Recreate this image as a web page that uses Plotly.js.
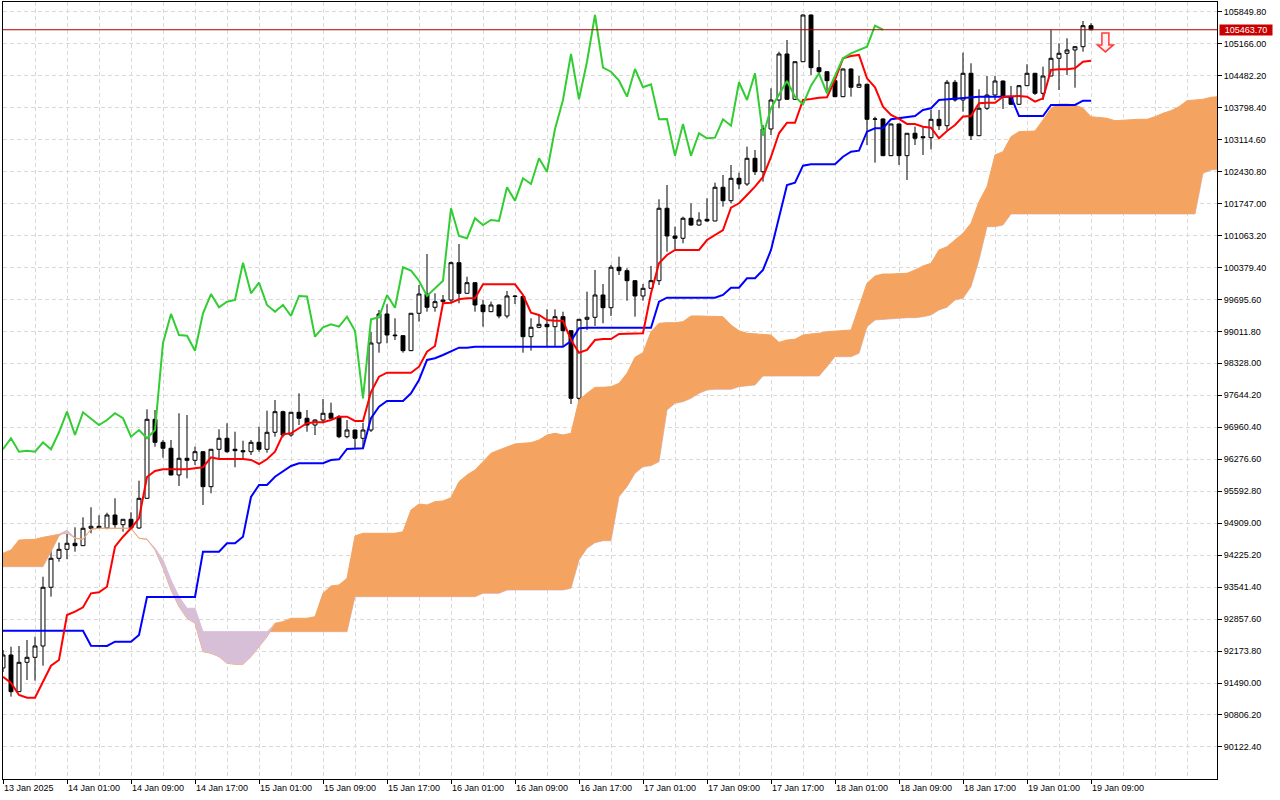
<!DOCTYPE html>
<html>
<head>
<meta charset="utf-8">
<script src="https://cdn.plot.ly/plotly-3.0.1.min.js"></script>
<style>
html,body{margin:0;padding:0;background:#ffffff;}
#chart{width:1280px;height:800px;}
</style>
</head>
<body>
<div id="chart"></div>
<script>
// ---- Data (hourly bars, BTC-like, 13 Jan 2025 17:00 .. 19 Jan 2025 09:00) ----
const timeLabels = ['13 Jan 2025','14 Jan 01:00','14 Jan 09:00','14 Jan 17:00','15 Jan 01:00','15 Jan 09:00',
  '15 Jan 17:00','16 Jan 01:00','16 Jan 09:00','16 Jan 17:00','17 Jan 01:00','17 Jan 09:00','17 Jan 17:00',
  '18 Jan 01:00','18 Jan 09:00','18 Jan 17:00','19 Jan 01:00','19 Jan 09:00'];

const priceTicks = [90122.40, 90806.20, 91490.00, 92173.80, 92857.60, 93541.40, 94225.20, 94909.00,
  95592.80, 96276.60, 96960.40, 97644.20, 98328.00, 99011.80, 99695.60, 100379.40, 101063.20,
  101747.00, 102430.80, 103114.60, 103798.40, 104482.20, 105166.00, 105849.80];

const open = [91812,92090,91305,91933,92040,92282,93538,94158,94350,94479,
  94428,94800,94842,94806,95084,94877,94992,94806,95441,97131,
  96639,96511,95940,96297,96254,96438,95690,96490,96725,96490,
  96460,96438,96639,96490,96853,97294,96795,97281,97153,97009,
  97116,97260,97187,96759,96902,96725,96902,98763,99384,98934,
  98920,98599,99399,99811,99527,99647,99683,100481,99826,100053,
  99576,99433,99576,99341,99769,99758,98898,99099,99163,99112,
  99326,99026,97580,99270,99313,99790,99518,100383,100310,100096,
  99769,99933,100096,101645,101052,101003,101431,101287,101409,101373,
  102094,101807,102286,102164,102714,102427,103341,103961,104945,103976,
  104780,105779,104652,104566,104374,104032,104624,104233,104297,103548,
  103555,102770,103448,102770,103249,103176,103155,103548,103411,104340,
  103961,104532,103197,103784,104068,104367,104032,103869,104267,104532,
  104104,104474,104853,104960,105031,105101,105550];

const high = [92197,92267,92282,92410,92481,93764,94428,94492,94678,94821,
  95035,95249,95078,95133,95441,94992,95142,95818,97345,97330,
  96688,96688,97260,97223,96545,96450,96490,96917,97046,96866,
  96673,96688,96973,97315,97544,97315,97281,97687,97330,97131,
  97565,97486,97223,97116,96910,97058,99005,99469,99591,99292,
  98934,99399,100004,100667,99826,99790,100502,100881,100181,100060,
  99683,99647,99585,99876,99790,99769,99292,99362,99484,99484,
  99433,99035,99275,99861,100325,100025,100432,100609,100361,100100,
  100025,100410,101837,102143,101251,101465,101751,101559,101858,102192,
  102357,102571,102406,102962,102892,103426,104211,104994,105244,104780,
  105790,105790,105031,104581,104389,104635,104635,104474,104310,103604,
  103570,103455,103455,103255,103390,103390,103747,103747,104389,104389,
  104973,104746,104190,104474,104474,104375,104261,104282,104725,104540,
  104673,105458,105174,105281,105110,105651,105602];

const low = [91726,91198,91298,91555,91540,91861,93337,94085,94137,94299,
  94421,94693,94791,94778,94806,94727,94785,94790,95426,96545,
  96310,95930,95705,95869,96154,95298,95548,96261,96417,96105,
  96261,96368,96438,96417,96759,96746,96759,97009,96866,96795,
  97046,97153,96725,96725,96511,96511,96860,98556,98757,98827,
  98556,98590,99219,99433,99433,99612,99612,99612,99820,99433,
  99112,99425,99292,99292,99597,98556,98599,99078,98699,98699,
  98699,97458,97401,99041,99127,99185,99341,100218,99668,99326,
  99668,99925,100004,100716,100768,100896,101272,101272,101358,101365,
  101679,101751,102051,102122,102357,102213,103212,103784,103960,103961,
  104770,104496,104496,104139,104020,104020,104032,104225,102998,102620,
  102760,102760,102571,102250,102998,102785,102907,103319,103319,103925,
  103711,103105,103190,103747,103961,103769,103854,103854,104260,104068,
  103961,104470,104175,104496,104224,104994,105455];

const close = [92090,91305,91933,92040,92282,93538,94158,94350,94479,94428,
  94800,94842,94806,95084,94877,94992,94806,95441,97131,96639,
  96511,95940,96297,96254,96438,95690,96490,96725,96438,96460,
  96438,96639,96490,96853,97294,96795,97281,97153,97009,97116,
  97260,97153,96759,96902,96725,96902,98763,99384,98934,98920,
  98599,99399,99811,99527,99647,99683,100481,99826,100053,99576,
  99433,99576,99341,99769,99758,98898,99099,99163,99112,99326,
  99026,97580,99270,99313,99790,99518,100383,100310,100096,99769,
  99933,100096,101645,101052,101003,101431,101287,101394,101373,102094,
  101807,102286,102164,102714,102427,103341,103961,104945,103976,104780,
  105779,104652,104566,104374,104032,104624,104233,104297,103548,103555,
  102770,103448,102770,103249,103142,103155,103548,103411,104340,103961,
  104532,103197,103784,104068,104367,104032,103869,104267,104532,104104,
  104474,104853,104960,105031,105101,105550,105463.70];

const tenkan = [91625,91491,91234,91176,91176,91518,91861,91983,92945,93016,
  93110,93409,93431,93550,94406,94620,94800,95014,95897,96025,
  96062,96062,96062,96062,96083,96105,96318,96282,96282,96282,
  96282,96261,96175,96276,96438,96810,96832,96939,97046,97067,
  97067,97116,97187,97187,97095,97095,97715,98042,98128,98128,
  98128,98128,98256,98577,98699,99612,99625,99698,99719,99719,
  100019,100019,100019,100019,100019,99790,99411,99362,99255,99240,
  99240,98827,98556,98614,98827,98849,98849,98956,98956,98956,
  98971,99826,100468,100646,100753,100753,100753,100753,100966,101073,
  101180,101657,101751,101929,102107,102314,102742,103249,103475,103475,
  103961,103982,104010,104019,104389,104853,104902,104924,104425,104233,
  103818,103640,103555,103448,103448,103390,103369,103142,103298,103426,
  103608,103619,103890,103903,103903,104032,104047,104047,104032,103925,
  103997,104603,104618,104618,104639,104780,104802];

const kijun = [92609,92609,92609,92609,92609,92609,92609,92609,92609,92609,
  92609,92289,92282,92282,92374,92374,92374,92517,93330,93330,
  93330,93330,93330,93330,93330,94299,94299,94299,94479,94479,
  94620,95469,95726,95726,95903,96010,96132,96190,96190,96190,
  96190,96261,96276,96496,96511,96511,97153,97401,97523,97523,
  97523,97687,97972,98400,98436,98507,98577,98663,98663,98684,
  98684,98684,98684,98684,98684,98684,98684,98684,98684,98684,
  98684,98806,99078,99090,99090,99090,99090,99090,99090,99090,
  99090,99090,99647,99732,99732,99732,99732,99732,99732,99732,
  99790,99946,99946,100147,100147,100325,100753,101458,102143,102192,
  102556,102586,102586,102586,102586,102748,102855,102877,103283,103356,
  103356,103548,103570,103604,103619,103747,103784,103961,103976,103982,
  103997,104010,104032,104032,104032,104032,104032,103619,103619,103619,
  103619,103854,103854,103854,103854,103946,103946];

// Senkou spans, already displaced 26 bars forward (index = bar position)
const spanA = [94265,94336,94549,94549,94564,94607,94635,94678,94699,94592,
  94564,94778,94800,94800,94800,94800,94800,94586,94564,94336,
  93944,93480,93123,92875,92768,92160,92126,92053,91912,91891,
  91891,92053,92267,92481,92768,92802,92875,92875,92875,92909,
  93409,93566,93587,93730,94635,94693,94693,94693,94693,94693,
  94727,95191,95319,95298,95369,95384,95454,95796,95940,96047,
  96224,96404,96475,96545,96603,96618,96631,96688,96795,96832,
  96795,96832,97544,97687,97816,97816,97829,97901,98115,98457,
  98556,99005,99185,99197,99197,99219,99341,99341,99341,99341,
  99326,99148,99026,98971,98956,98956,98934,98778,98827,98842,
  98934,98956,98971,99005,99020,99026,99041,99540,100040,100196,
  100239,100239,100239,100254,100325,100410,100468,100753,100823,100966,
  101110,101324,101786,102107,102785,102855,103176,103283,103298,103298,
  103533,103784,103875,103875,103854,103784,103604,103591,103570,103518,
  103533,103548,103548,103548,103604,103677,103732,103818,103946,103961,
  103976,104019,104032];

const spanB = [93978,93978,93978,93978,93978,93978,94299,94635,94763,94582,
  94564,94778,94800,94800,94800,94800,94800,94586,94564,94372,
  94122,93694,93337,93089,93089,92588,92588,92588,92588,92588,
  92588,92588,92588,92588,92588,92588,92588,92588,92588,92588,
  92588,92588,92588,92588,93337,93337,93337,93337,93337,93337,
  93337,93337,93337,93337,93337,93337,93337,93337,93337,93337,
  93409,93409,93409,93480,93480,93480,93480,93480,93480,93480,
  93480,93516,94122,94372,94492,94534,94534,95476,95690,95976,
  96117,96139,96224,97330,97473,97508,97580,97687,97758,97773,
  97773,97773,97829,97844,97865,98057,98057,98057,98057,98057,
  98057,98057,98057,98256,98470,98470,98470,98543,99112,99255,
  99270,99292,99292,99304,99304,99326,99362,99469,99527,99683,
  99719,99968,100539,101251,101251,101287,101523,101523,101523,101523,
  101523,101523,101523,101523,101523,101523,101523,101523,101523,101523,
  101523,101523,101523,101523,101523,101523,101523,101523,101523,101523,
  102393,102464,102479];

const chikouShift = 26;
const signalBar = 137.8;      // sell-signal arrow position (bar units)
const signalPrice = 104990;   // arrow tip price

// ---- Build traces ----
const bars = close.map((_, i) => i);
const spanX = spanA.map((_, i) => i);
const cloudTop = spanA.map((a, i) => Math.max(a, spanB[i]));
const chikouX = bars.slice(0, close.length - chikouShift);
const chikouY = close.slice(chikouShift);
const lastPrice = close[close.length - 1];

const SANDY = '#F4A460', THISTLE = '#D8BFD8';

const traces = [
  {type:'scatter', mode:'lines', x:spanX, y:spanB, line:{color:THISTLE, width:1}, hoverinfo:'skip'},
  {type:'scatter', mode:'lines', x:spanX, y:spanA, line:{color:SANDY, width:1}, hoverinfo:'skip'},
  // bullish cloud (A above B)
  {type:'scatter', mode:'lines', x:spanX, y:spanB, line:{width:0, color:SANDY}, hoverinfo:'skip'},
  {type:'scatter', mode:'lines', x:spanX, y:cloudTop, line:{width:0, color:SANDY}, fill:'tonexty', fillcolor:SANDY, hoverinfo:'skip'},
  // bearish cloud (B above A)
  {type:'scatter', mode:'lines', x:spanX, y:spanA, line:{width:0, color:THISTLE}, hoverinfo:'skip'},
  {type:'scatter', mode:'lines', x:spanX, y:cloudTop, line:{width:0, color:THISTLE}, fill:'tonexty', fillcolor:THISTLE, hoverinfo:'skip'},
  {type:'candlestick', x:bars, open:open, high:high, low:low, close:close,
    increasing:{line:{color:'#000000', width:1}, fillcolor:'#ffffff'},
    decreasing:{line:{color:'#000000', width:1}, fillcolor:'#000000'},
    whiskerwidth:0, hoverinfo:'skip'},
  {type:'scatter', mode:'lines', x:bars, y:kijun, line:{color:'#0000FF', width:2}, hoverinfo:'skip'},
  {type:'scatter', mode:'lines', x:bars, y:tenkan, line:{color:'#FF0000', width:2}, hoverinfo:'skip'},
  {type:'scatter', mode:'lines', x:chikouX, y:chikouY, line:{color:'#32CD32', width:2}, hoverinfo:'skip'}
];

// grid every 4 bars, labels every 8 bars
const labelBars = timeLabels.map((_, i) => i * 8);
const minorBars = [];
for (let b = 4; b < 152; b += 4) { if (labelBars.indexOf(b) < 0) minorBars.push(b); }

const FONT = 'Liberation Sans, Arial, sans-serif';
const GRID = '#d9d9d9';

const layout = {
  width:1280, height:800,
  margin:{l:3, r:63, t:2, b:21, pad:0},
  paper_bgcolor:'#ffffff', plot_bgcolor:'#ffffff',
  showlegend:false,
  hovermode:false,
  font:{family:FONT, size:9, color:'#000000'},
  xaxis:{
    range:[0, 151.75], fixedrange:true,
    tickmode:'array', tickvals:labelBars, ticktext:timeLabels,
    ticks:'outside', ticklen:4, tickwidth:1, tickcolor:'#000000',
    ticklabelposition:'outside right',
    tickfont:{family:FONT, size:9, color:'#000000'},
    showline:true, linecolor:'#000000', linewidth:1, mirror:true,
    showgrid:true, gridcolor:GRID, gridwidth:1, griddash:'4px,3px',
    minor:{tickmode:'array', tickvals:minorBars, ticks:'', showgrid:true, gridcolor:GRID, gridwidth:1, griddash:'4px,3px'},
    zeroline:false, automargin:false,
    rangeslider:{visible:false}
  },
  yaxis:{
    side:'right', range:[89437, 106057], fixedrange:true,
    tickmode:'array', tickvals:priceTicks, ticktext:priceTicks.map(v => v.toFixed(2)),
    ticks:'outside', ticklen:4, tickwidth:1, tickcolor:'#000000',
    tickfont:{family:FONT, size:9, color:'#000000'},
    showline:true, linecolor:'#000000', linewidth:1, mirror:true,
    showgrid:true, gridcolor:GRID, gridwidth:1, griddash:'4px,3px',
    zeroline:false, automargin:false
  },
  shapes:[
    {type:'line', xref:'paper', x0:0, x1:1, yref:'y', y0:lastPrice, y1:lastPrice,
      line:{color:'#b00000', width:1}},
    {type:'path', xref:'x', yref:'y', xsizemode:'pixel', ysizemode:'pixel',
      xanchor:signalBar, yanchor:signalPrice,
      path:'M 0 0 L -8 7 L -3.5 7 L -3.5 19 L 3.5 19 L 3.5 7 L 8 7 Z',
      line:{color:'#ff3a3a', width:1.5}, fillcolor:'#fff0f2'}
  ],
  annotations:[
    {xref:'paper', x:1, xanchor:'left', xshift:2, yref:'y', y:lastPrice, yanchor:'middle',
      text:lastPrice.toFixed(2), showarrow:false, bgcolor:'#c80000',
      font:{family:FONT, size:9, color:'#ffffff'}, width:52, height:10, borderpad:0, align:'center'}
  ]
};

Plotly.newPlot('chart', traces, layout, {staticPlot:true, displayModeBar:false});
</script>
</body>
</html>
